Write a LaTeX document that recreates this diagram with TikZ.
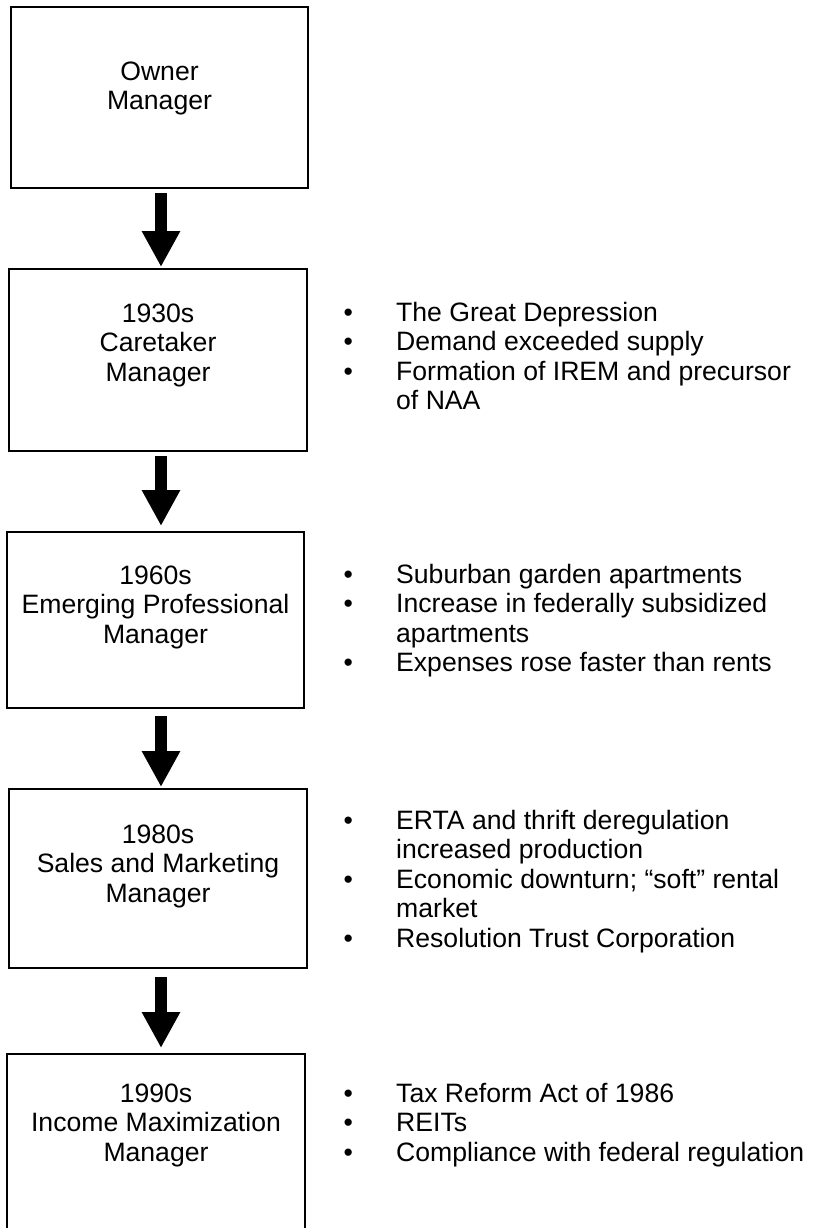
\documentclass[tikz,border=0pt]{standalone}
\usepackage{fontspec}
\setmainfont{Liberation Sans}
\usetikzlibrary{arrows.meta}
\newcommand\firstline{\rule{0pt}{20pt}}
\newcommand\bul{\makebox[62pt][l]{\hspace{9.4pt}•}}
\newcommand\cont{\hspace*{62pt}}
\begin{document}
\begin{tikzpicture}[x=1pt,y=-1pt,
  box/.style={draw, line width=2pt, inner sep=0pt, outer sep=0pt, anchor=north west},
  lbl/.style={font=\fontsize{26.6pt}{29.5pt}\selectfont, align=center, anchor=north, inner sep=0pt},
  blist/.style={font=\fontsize{26.6pt}{29.5pt}\selectfont, align=left, anchor=north west, inner sep=0pt},
  flow/.style={line width=12pt, -{Triangle[width=36pt,length=36pt]}}]
\useasboundingbox[fill=white] (0,0) rectangle (812,1228);
% boxes
\node[box, minimum width=297pt, minimum height=181pt] (b1) at (11,7) {};
\node[box, minimum width=298pt, minimum height=182pt] (b2) at (9,269) {};
\node[box, minimum width=297pt, minimum height=176pt] (b3) at (7,532) {};
\node[box, minimum width=298pt, minimum height=179pt] (b4) at (9,789) {};
\node[box, minimum width=298pt, minimum height=200pt] (b5) at (7,1054) {};
% box labels
\node[lbl] (t1) at (159.5,60) {\firstline Owner\\Manager};
\node[lbl] (t2) at (158,302) {\firstline 1930s\\Caretaker\\Manager};
\node[lbl] (t3) at (155.5,564) {\firstline 1960s\\Emerging Professional\\Manager};
\node[lbl] (t4) at (158,823) {\firstline 1980s\\Sales and Marketing\\Manager};
\node[lbl] (t5) at (156,1082) {\firstline 1990s\\Income Maximization\\Manager};
% bullet lists
\node[blist] (g2) at (334,301) {\firstline\bul The Great Depression\\\bul Demand exceeded supply\\\bul Formation of IREM and precursor\\\cont of NAA};
\node[blist] (g3) at (334,563) {\firstline\bul Suburban garden apartments\\\bul Increase in federally subsidized\\\cont apartments\\\bul Expenses rose faster than rents};
\node[blist] (g4) at (334,809) {\firstline\bul ERTA and thrift deregulation\\\cont increased production\\\bul Economic downturn; “soft” rental\\\cont market\\\bul Resolution Trust Corporation};
\node[blist] (g5) at (334,1082) {\firstline\bul Tax Reform Act of 1986\\\bul REITs\\\bul Compliance with federal regulation};
% arrows
\coordinate (ax) at (161,0);
\draw[flow, shorten <=5pt, shorten >=2pt] (ax |- b1.south) -- (ax |- b2.north);
\draw[flow, shorten <=5pt, shorten >=6pt] (ax |- b2.south) -- (ax |- b3.north);
\draw[flow, shorten <=8pt, shorten >=2pt] (ax |- b3.south) -- (ax |- b4.north);
\draw[flow, shorten <=9pt, shorten >=6pt] (ax |- b4.south) -- (ax |- b5.north);
\end{tikzpicture}
\end{document}
